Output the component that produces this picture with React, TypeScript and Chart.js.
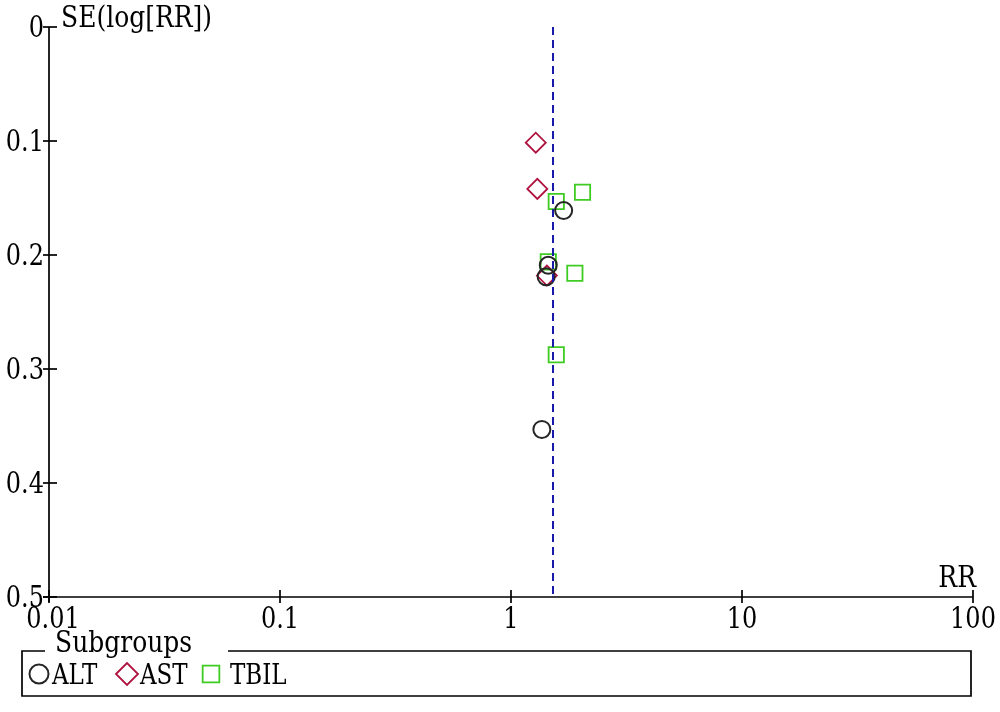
import React, { useEffect, useRef } from 'react';
import { Chart, registerables } from 'chart.js';

Chart.register(...registerables);

// ---- Data ----
const altRR = [1.69, 1.45, 1.42, 1.36];
const altSE = [0.161, 0.209, 0.219, 0.353];
const astRR = [1.28, 1.3, 1.43];
const astSE = [0.1015, 0.142, 0.218];
const tbilRR = [1.57, 2.04, 1.45, 1.89, 1.57];
const tbilSE = [0.153, 0.145, 0.206, 0.216, 0.2875];
const pooledRR = 1.52;

const xTickValues = [0.01, 0.1, 1, 10, 100];
const xTickLabels = ['0.01', '0.1', '1', '10', '100'];
const yTickValues = [0, 0.1, 0.2, 0.3, 0.4, 0.5];
const yTickLabels = ['0', '0.1', '0.2', '0.3', '0.4', '0.5'];

const seriesNames = ['ALT', 'AST', 'TBIL'];
const xTitle = 'RR';
const yTitle = 'SE(log[RR])';
const legendTitle = 'Subgroups';

const FONT = "'DejaVu Serif', 'Liberation Serif', serif";
const TEXT_STRETCH = 1.22;
const altColor = '#262626';
const astColor = '#b0123f';
const tbilColor = '#3fcc22';
const pooledColor = '#1a1aa8';

const toPoints = (xs: number[], ys: number[]) => xs.map((x, i) => ({ x, y: ys[i] }));

function text(ctx: CanvasRenderingContext2D, s: string, x: number, y: number) {
  ctx.save();
  ctx.translate(x, y);
  ctx.scale(1, TEXT_STRETCH);
  ctx.fillText(s, 0, 0);
  ctx.restore();
}

function drawMarker(ctx: CanvasRenderingContext2D, style: string, x: number, y: number, r: number, color: string, lw: number) {
  ctx.save();
  ctx.strokeStyle = color;
  ctx.lineWidth = lw;
  ctx.beginPath();
  if (style === 'circle') {
    ctx.arc(x, y, r, 0, Math.PI * 2);
  } else if (style === 'rectRot') {
    ctx.moveTo(x - r, y);
    ctx.lineTo(x, y - r);
    ctx.lineTo(x + r, y);
    ctx.lineTo(x, y + r);
    ctx.closePath();
  } else {
    const s = r * Math.SQRT1_2;
    ctx.rect(x - s, y - s, 2 * s, 2 * s);
  }
  ctx.stroke();
  ctx.restore();
}

const funnelPlugin = {
  id: 'funnelAxes',
  afterDraw(chart: any) {
    const ctx: CanvasRenderingContext2D = chart.ctx;
    const xs = chart.scales.x;
    const ys = chart.scales.y;
    const area = chart.chartArea;
    ctx.save();
    ctx.strokeStyle = '#000';
    ctx.fillStyle = '#000';
    ctx.lineWidth = 1.7;
    // axis lines
    ctx.beginPath();
    ctx.moveTo(area.left, area.top);
    ctx.lineTo(area.left, area.bottom + 5);
    ctx.moveTo(area.left - 6, area.bottom);
    ctx.lineTo(area.right, area.bottom);
    ctx.stroke();
    // y ticks + labels
    ctx.font = `24px ${FONT}`;
    ctx.textAlign = 'right';
    ctx.textBaseline = 'middle';
    yTickValues.forEach((v, i) => {
      const py = ys.getPixelForValue(v);
      ctx.beginPath();
      ctx.moveTo(area.left - 6, py);
      ctx.lineTo(area.left + 8, py);
      ctx.stroke();
      text(ctx, yTickLabels[i], area.left - 5, py + 2);
    });
    // x ticks + labels
    ctx.textAlign = 'center';
    ctx.textBaseline = 'alphabetic';
    xTickValues.forEach((v, i) => {
      const px = xs.getPixelForValue(v);
      ctx.beginPath();
      ctx.moveTo(px, area.bottom - 7);
      ctx.lineTo(px, area.bottom + 6);
      ctx.stroke();
      text(ctx, xTickLabels[i], px + (i === 0 ? 4 : 0), area.bottom + 31);
    });
    // axis titles
    ctx.font = `25px ${FONT}`;
    ctx.textAlign = 'right';
    text(ctx, xTitle, area.right + 3, area.bottom - 10);
    ctx.textAlign = 'left';
    text(ctx, yTitle, area.left + 12, 27);

    // legend box
    const bx1 = 22, bx2 = 971, by1 = 651, by2 = 696;
    ctx.lineWidth = 1.7;
    ctx.beginPath();
    ctx.moveTo(45, by1);
    ctx.lineTo(bx1, by1);
    ctx.lineTo(bx1, by2);
    ctx.lineTo(bx2, by2);
    ctx.lineTo(bx2, by1);
    ctx.lineTo(228, by1);
    ctx.stroke();
    ctx.font = `25px ${FONT}`;
    ctx.textAlign = 'left';
    text(ctx, legendTitle, 55, 652);

    const items = chart.data.datasets.filter((d: any) => d.label && seriesNames.includes(d.label));
    const markerX = [39, 127, 211];
    const textX = [52, 140, 230];
    ctx.font = `23px ${FONT}`;
    items.forEach((d: any, i: number) => {
      drawMarker(ctx, d.pointStyle, markerX[i], 674, d.pointRadius + 1, d.borderColor, d.borderWidth);
      ctx.fillStyle = '#000';
      text(ctx, d.label, textX[i], 684);
    });
    ctx.restore();
  },
};

export default function App() {
  const canvasRef = useRef<HTMLCanvasElement | null>(null);

  useEffect(() => {
    const canvas = canvasRef.current;
    if (!canvas) return;
    const chart = new Chart(canvas, {
      type: 'scatter',
      data: {
        datasets: [
          {
            type: 'line',
            label: 'pooled',
            data: [
              { x: pooledRR, y: 0 },
              { x: pooledRR, y: 0.5 },
            ],
            borderColor: pooledColor,
            borderWidth: 2,
            borderDash: [8, 5],
            pointRadius: 0,
            fill: false,
          } as any,
          {
            label: seriesNames[0],
            data: toPoints(altRR, altSE),
            pointStyle: 'circle',
            pointRadius: 8.5,
            borderColor: altColor,
            backgroundColor: 'rgba(0,0,0,0)',
            borderWidth: 2,
          },
          {
            label: seriesNames[1],
            data: toPoints(astRR, astSE),
            pointStyle: 'rectRot',
            pointRadius: 10,
            borderColor: astColor,
            backgroundColor: 'rgba(0,0,0,0)',
            borderWidth: 1.8,
          },
          {
            label: seriesNames[2],
            data: toPoints(tbilRR, tbilSE),
            pointStyle: 'rect',
            pointRadius: 10.8,
            borderColor: tbilColor,
            backgroundColor: 'rgba(0,0,0,0)',
            borderWidth: 1.8,
          },
        ],
      },
      options: {
        responsive: false,
        animation: false,
        devicePixelRatio: 1,
        layout: { padding: { left: 49, right: 27, top: 27, bottom: 115 } },
        plugins: {
          legend: { display: false },
          tooltip: { enabled: false },
        },
        scales: {
          x: { type: 'logarithmic', min: 0.01, max: 100, display: false },
          y: { type: 'linear', min: 0, max: 0.5, reverse: true, display: false },
        },
      },
      plugins: [funnelPlugin],
    });
    return () => chart.destroy();
  }, []);

  return (
    <div style={{ position: 'absolute', left: 0, top: 0, width: 1000, height: 712, background: '#fff' }}>
      <canvas ref={canvasRef} width={1000} height={712} style={{ display: 'block' }} />
    </div>
  );
}
